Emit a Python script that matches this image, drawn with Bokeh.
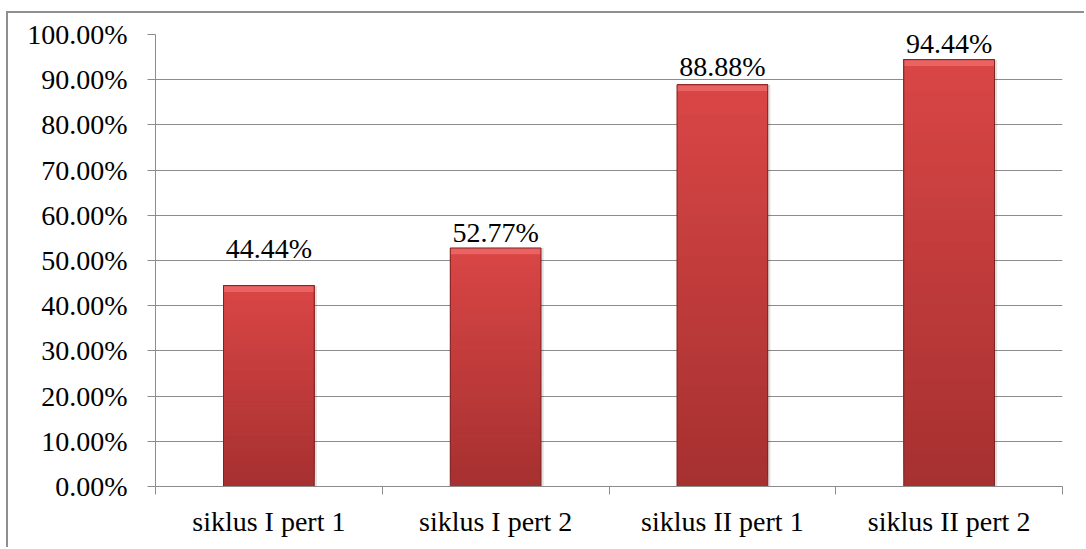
from bokeh.plotting import figure
from bokeh.models import Range1d, FixedTicker, PrintfTickFormatter, ColumnDataSource
from bokeh.core.properties import value
from bokeh.embed import file_html
from bokeh.resources import INLINE

# ---- data ----
categories = ["siklus I pert 1", "siklus I pert 2", "siklus II pert 1", "siklus II pert 2"]
values = [44.44, 52.77, 88.88, 94.44]          # percent
y_ticks = [0, 10, 20, 30, 40, 50, 60, 70, 80, 90, 100]

# ---- styling ----
label_offsets = [-37, -15, -18, -16]             # px shift of value labels
FONT = "Liberation Serif"
GRID = "#8c8c8c"
TOP_RGB = (218, 70, 70)
BOT_RGB = (166, 48, 48)
BAR_W = 0.4
NSEG = 40
BEVEL = 1.4   # height of the light top bevel, in y units

xs = [i + 0.5 for i in range(len(categories))]

p = figure(width=1078, height=536, output_backend="svg", toolbar_location=None,
           x_range=Range1d(0, len(categories)), y_range=Range1d(0, 100),
           min_border_left=147, min_border_right=24, min_border_top=21, min_border_bottom=63,
           styles={"border-left": "2px solid #8f8f8f", "border-top": "2px solid #8f8f8f",
                   "margin-top": "11px", "margin-left": "6px"})
p.outline_line_color = None
p.background_fill_color = "white"
p.border_fill_color = "white"

# soft shadow to the right of each bar
p.vbar(x=[x + 0.012 for x in xs], top=values, width=BAR_W, bottom=0,
       fill_color="#000000", fill_alpha=0.12, line_color=None)

# gradient bars (top light -> bottom dark), built from values; overlapping strips avoid seams
L, R, B, T, C = [], [], [], [], []
for x, v in zip(xs, values):
    for k in range(NSEG):
        b = v * k / NSEG
        f = (k + 0.5) / NSEG  # 0 bottom, 1 top
        rgb = tuple(int(round(BOT_RGB[j] + (TOP_RGB[j] - BOT_RGB[j]) * f)) for j in range(3))
        L.append(x - BAR_W / 2); R.append(x + BAR_W / 2); B.append(b); T.append(v)
        C.append("#%02x%02x%02x" % rgb)
p.quad(left=L, right=R, bottom=B, top=T, fill_color=C, line_color=None)

# light top bevel
p.quad(left=[x - BAR_W / 2 for x in xs], right=[x + BAR_W / 2 for x in xs],
       bottom=[v - BEVEL for v in values], top=values,
       fill_color="#ea6262", line_color=None)

bars = ColumnDataSource(dict(x=xs, top=values))
p.vbar(x="x", top="top", width=BAR_W, bottom=0, source=bars,
       fill_color=None, line_color="#7e2222", line_width=1)

# value labels
lab = ColumnDataSource(dict(x=xs, y=values, txt=["%.2f%%" % v for v in values], dy=label_offsets))
p.text(x="x", y="y", text="txt", y_offset="dy", source=lab, text_align="center",
       text_baseline="alphabetic", text_font=value(FONT), text_font_size="28px",
       text_color="black")

# grid
p.xgrid.grid_line_color = None
p.ygrid.grid_line_color = GRID
p.ygrid.grid_line_width = 1
p.ygrid.ticker = FixedTicker(ticks=y_ticks)

# y axis
ya = p.yaxis[0]
ya.ticker = FixedTicker(ticks=y_ticks)
ya.formatter = PrintfTickFormatter(format="%.2f%%")
ya.axis_line_color = GRID
ya.major_tick_line_color = GRID
ya.major_tick_out = 8
ya.major_tick_in = 0
ya.minor_tick_line_color = None
ya.major_label_standoff = 20
ya.major_label_text_font = FONT
ya.major_label_text_font_size = "28px"
ya.major_label_text_color = "black"

# x axis: labels at centers, ticks at category boundaries
xa = p.xaxis[0]
xa.ticker = FixedTicker(ticks=xs, minor_ticks=list(range(len(categories) + 1)))
xa.major_label_overrides = {x: c for x, c in zip(xs, categories)}
xa.axis_line_color = GRID
xa.major_tick_line_color = None
xa.major_tick_out = 0
xa.major_tick_in = 0
xa.minor_tick_line_color = GRID
xa.minor_tick_out = 8
xa.minor_tick_in = 0
xa.major_label_standoff = 11
xa.major_label_text_font = FONT
xa.major_label_text_font_size = "28px"
xa.major_label_text_color = "black"

open("out.html", "w").write(file_html(p, INLINE))
